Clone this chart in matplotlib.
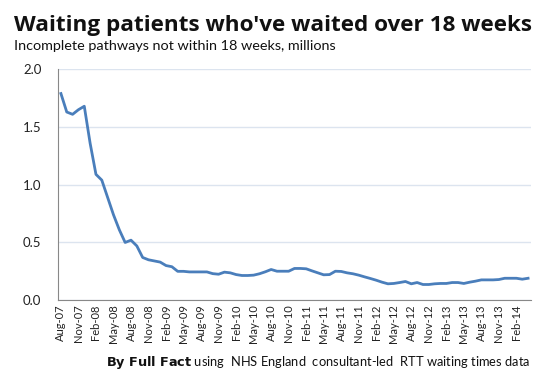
import matplotlib
matplotlib.use("Agg")
import matplotlib.pyplot as plt
import pandas as pd
import numpy as np

values = [1.79, 1.63, 1.61, 1.65, 1.68, 1.36, 1.09, 1.04, 0.89, 0.74, 0.61, 0.50,
          0.52, 0.47, 0.37, 0.35, 0.34, 0.33, 0.30, 0.29, 0.25, 0.25, 0.245, 0.245,
          0.245, 0.245, 0.23, 0.225, 0.243, 0.237, 0.222, 0.214, 0.214, 0.217, 0.229, 0.246,
          0.266, 0.251, 0.251, 0.251, 0.275, 0.275, 0.272, 0.254, 0.237, 0.22, 0.222, 0.251,
          0.249, 0.237, 0.229, 0.217, 0.202, 0.188, 0.173, 0.156, 0.142, 0.145, 0.153, 0.162,
          0.142, 0.153, 0.136, 0.136, 0.142, 0.145, 0.145, 0.153, 0.153, 0.145, 0.156, 0.165,
          0.176, 0.176, 0.176, 0.179, 0.19, 0.19, 0.19, 0.182, 0.19]
months = pd.date_range("2007-08-01", periods=len(values), freq="MS")
month_labels = [d.strftime("%b-%y") for d in months]
y_ticks = [0.0, 0.5, 1.0, 1.5, 2.0]

title = "Waiting patients who've waited over 18 weeks"
subtitle = "Incomplete pathways not within 18 weeks, millions"

plt.rcParams['font.family'] = ['Lato', 'DejaVu Sans']

fig = plt.figure(figsize=(5.48, 3.78), dpi=100)
ax = fig.add_axes([58 / 548, (378 - 300.2) / 378, 473 / 548, 230.9 / 378])

x = np.arange(len(values))
ax.plot(x, values, color="#4a7ebb", linewidth=2.0, solid_joinstyle="round")

ax.set_xlim(-0.5, len(values) - 0.5)
ax.set_ylim(0, 2.0)
ax.set_yticks(y_ticks)
ax.set_yticklabels([f"{v:.1f}" for v in y_ticks], fontsize=9.5, color="#222222")
ax.yaxis.grid(True, color="#dce4ef", linewidth=1.0)
ax.set_axisbelow(True)

tick_idx = x[::3]
ax.set_xticks(tick_idx)
ax.set_xticklabels([month_labels[i] for i in tick_idx], rotation=90, fontsize=8, color="#222222")
ax.tick_params(axis="x", length=0, pad=3)
ax.tick_params(axis="y", length=0, pad=12)

for s in ["top", "right"]:
    ax.spines[s].set_visible(False)
ax.spines["left"].set_color("#888888")
ax.spines["bottom"].set_color("#888888")

fig.text(14 / 548, 1 - 31 / 378, title, fontsize=16.2, fontweight="bold", color="#111111",
         ha="left", va="baseline", family=["Open Sans", "DejaVu Sans"])
fig.text(14 / 548, 1 - 50 / 378, subtitle, fontsize=10.4, color="#111111", ha="left", va="baseline")

fig.text(530 / 548, 1 - 366 / 378,
         r"$\bf{By\ Full\ Fact}$" + " using  NHS England  consultant-led  RTT waiting times data",
         fontsize=9.3, color="#111111", ha="right", va="baseline")

fig.savefig("out.png", dpi=100)
